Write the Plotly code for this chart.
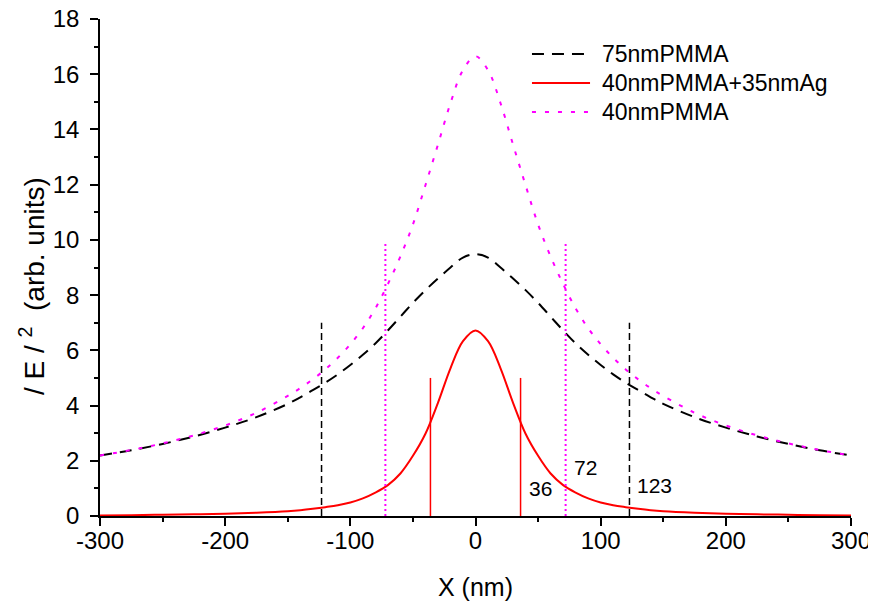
import plotly.graph_objects as go

# Half-profile sample positions (nm); curves are symmetric about x = 0
x_half = [0, 10, 20, 30, 40, 50, 60, 70, 80, 90, 100, 110, 120, 130, 140, 150, 175, 200, 225, 250, 275, 300]

pmma75 = [9.48, 9.36, 9.00, 8.60, 8.18, 7.72, 7.22, 6.72, 6.25, 5.84, 5.47, 5.13, 4.83, 4.56, 4.30, 4.06, 3.58, 3.20, 2.88, 2.61, 2.38, 2.19]
pmma40_ag35 = [6.72, 6.33, 5.35, 4.10, 2.98, 2.18, 1.54, 1.12, 0.85, 0.64, 0.49, 0.39, 0.32, 0.26, 0.21, 0.175, 0.12, 0.08, 0.06, 0.045, 0.03, 0.02]
pmma40 = [16.65, 16.15, 14.95, 13.45, 11.98, 10.56, 9.40, 8.40, 7.52, 6.80, 6.22, 5.73, 5.31, 4.95, 4.63, 4.35, 3.74, 3.28, 2.92, 2.63, 2.39, 2.19]

# Width markers: half-width positions and line heights
marker_x = [123, 72, 36]
marker_top = [7.0, 9.9, 5.0]
marker_labels = ["123", "72", "36"]
label_x = [143, 87.5, 52.3]
label_y = [1.11, 1.74, 0.99]

series_names = ["75nmPMMA", "40nmPMMA+35nmAg", "40nmPMMA"]
colors = ["#000000", "#FF0000", "#FF00FF"]

x_ticks = [-300, -200, -100, 0, 100, 200, 300]
x_ticktext = ["-300", "-200", "-100", "0", "100", "200", "300"]
y_ticks = [0, 2, 4, 6, 8, 10, 12, 14, 16, 18]


def mirror(xs, ys):
    xf = [-v for v in reversed(xs[1:])] + list(xs)
    yf = list(reversed(ys[1:])) + list(ys)
    return xf, yf


FONT = "Liberation Sans, Arial, sans-serif"
fig = go.Figure()

curve_dash = ["12px,8px", "solid", "4px,9px"]
for name, vals, col, dash in zip(series_names, [pmma75, pmma40_ag35, pmma40], colors, curve_dash):
    xf, yf = mirror(x_half, vals)
    fig.add_trace(go.Scatter(x=xf, y=yf, mode="lines", name=name, showlegend=False,
                             line=dict(color=col, width=2, dash=dash, shape="spline", smoothing=1.0)))

marker_colors = ["#000000", "#FF00FF", "#FF0000"]
marker_dash = ["7px,4px", "2px,3px", "solid"]
marker_width = [1.5, 2, 1.5]
for mx, mt, col, dash, w in zip(marker_x, marker_top, marker_colors, marker_dash, marker_width):
    for sgn in (-1, 1):
        fig.add_trace(go.Scatter(x=[sgn * mx, sgn * mx], y=[0, mt], mode="lines", showlegend=False,
                                 hoverinfo="skip", line=dict(color=col, width=w, dash=dash)))

for lab, lx, ly in zip(marker_labels, label_x, label_y):
    fig.add_annotation(x=lx, y=ly, text=lab, showarrow=False,
                       font=dict(family=FONT, size=21, color="black"))

# Legend (drawn in paper coordinates; plot area spans 497 px vertically)
leg_y = [0.9296, 0.8712, 0.8129]
for name, col, dash, ly in zip(series_names, colors, curve_dash, leg_y):
    fig.add_shape(type="line", xref="paper", yref="paper", x0=0.5752, x1=0.6525, y0=ly, y1=ly,
                  line=dict(color=col, width=2, dash=dash))
    fig.add_annotation(xref="paper", yref="paper", x=0.6658, y=ly, xanchor="left", yanchor="middle",
                       text=name, showarrow=False, font=dict(family=FONT, size=23, color="black"))

# Y-axis title
fig.add_annotation(xref="paper", yref="paper", x=-0.0905, y=0.4628, textangle=-90,
                   xanchor="center", yanchor="middle", showarrow=False,
                   text="/ E / <sup>2</sup>  (arb. units)", font=dict(family=FONT, size=28, color="black"))

fig.update_layout(
    width=868, height=596,
    margin=dict(l=92, r=25, t=11, b=88),
    plot_bgcolor="white", paper_bgcolor="white",
    font=dict(family=FONT, size=24, color="black"),
    showlegend=False,
    xaxis=dict(range=[-300, 300], tickmode="array", tickvals=x_ticks, ticktext=x_ticktext,
               ticks="outside", ticklen=8, tickwidth=1.5, tickcolor="black", automargin=False,
               ticklabelstandoff=-6, ticklabeloverflow="allow",
               showline=True, linecolor="black", linewidth=1.5, showgrid=False, zeroline=False,
               minor=dict(ticks="outside", ticklen=4, tickwidth=1.5, tickcolor="black", dtick=50, showgrid=False),
               title=dict(text="X (nm)", font=dict(size=25), standoff=26)),
    yaxis=dict(range=[0, 18], tickmode="array", tickvals=y_ticks,
               ticks="outside", ticklen=8, tickwidth=1.5, tickcolor="black", automargin=False,
               ticklabelstandoff=6, ticklabeloverflow="allow",
               showline=True, linecolor="black", linewidth=1.5, showgrid=False, zeroline=False,
               minor=dict(ticks="outside", ticklen=4, tickwidth=1.5, tickcolor="black", dtick=1, showgrid=False)),
)

fig.write_html("out.html")
